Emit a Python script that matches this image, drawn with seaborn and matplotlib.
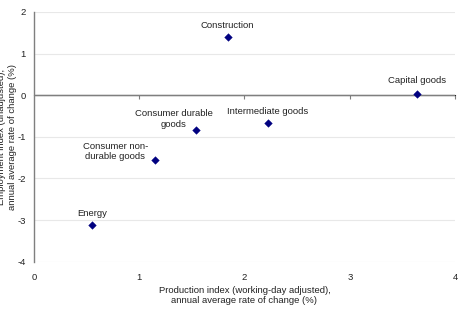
import pandas as pd
import seaborn as sns
import matplotlib.pyplot as plt

# data
sectors = ['Construction', 'Capital goods', 'Intermediate goods',
           'Consumer durable\ngoods', 'Consumer non-\ndurable goods', 'Energy']
production = [1.84, 3.64, 2.22, 1.54, 1.15, 0.55]
employment = [1.41, 0.04, -0.66, -0.84, -1.55, -3.12]

df = pd.DataFrame({'sector': sectors, 'production': production,
                   'employment': employment})

# label offsets (points) and alignment
offsets = {
    'Construction': ((0, 5), 'center'),
    'Capital goods': ((0, 6), 'center'),
    'Intermediate goods': ((0, 5), 'center'),
    'Consumer durable\ngoods': ((-16, 1), 'center'),
    'Consumer non-\ndurable goods': ((-5, -1), 'right'),
    'Energy': ((0, 5), 'center'),
}

sns.set_style('white')
plt.rcParams['font.family'] = ['Liberation Sans', 'DejaVu Sans']
plt.rcParams['axes.unicode_minus'] = False

fig = plt.figure(figsize=(4.58, 3.13), dpi=100)
ax = fig.add_axes([0.0742, 0.164, 0.9192, 0.7977])

for yv in range(-4, 3):
    ax.axhline(yv, color='#e8e8e8', lw=0.8, zorder=0)
ax.axhline(0, color='#7f7f7f', lw=1.0, zorder=1)

sns.scatterplot(data=df, x='production', y='employment', marker='D',
                color='#000080', edgecolor='#000080', s=15, ax=ax, zorder=3)

for _, r in df.iterrows():
    off, ha = offsets[r['sector']]
    ax.annotate(r['sector'], (r['production'], r['employment']),
                xytext=off, textcoords='offset points', ha=ha, va='bottom',
                multialignment='center', fontsize=6.8, color='#222222')

ax.set_xlim(0, 4)
ax.set_ylim(-4, 2)
ax.set_xticks([0, 1, 2, 3, 4])
ax.set_yticks(range(-4, 3))
ax.tick_params(axis='both', length=0, labelsize=6.8, colors='#222222')
ax.tick_params(axis='x', pad=8)
ax.tick_params(axis='y', pad=6)

for s in ['top', 'right', 'bottom']:
    ax.spines[s].set_visible(False)
ax.spines['left'].set_color('#7f7f7f')
ax.spines['left'].set_linewidth(1.0)

# tick marks on the zero line
sec = ax.secondary_xaxis(4 / 6)
sec.set_xticks([1, 2, 3, 4])
sec.set_xticklabels([])
sec.tick_params(direction='in', length=3, color='#7f7f7f', width=0.8)
sec.spines['bottom'].set_visible(False)

ax.set_xlabel('Production index (working-day adjusted),\nannual average rate of change (%)',
              fontsize=6.8, color='#222222', labelpad=3)
ax.set_ylabel('Employment index (unadjusted),\nannual average rate of change (%)',
              fontsize=6.8, color='#222222', linespacing=1.3)
ax.yaxis.set_label_coords(-0.04, 0.5)

fig.savefig('out.png', dpi=100)
